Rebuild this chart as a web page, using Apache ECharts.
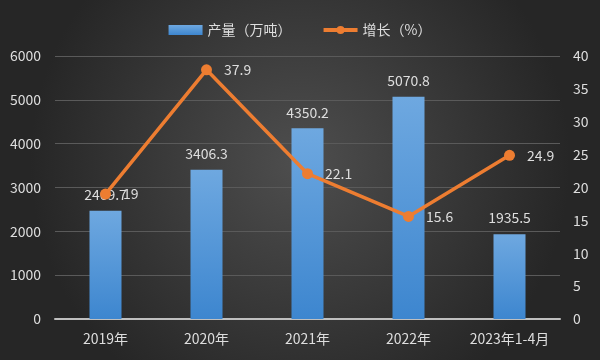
<!DOCTYPE html>
<html>
<head>
<meta charset="utf-8">
<script src="https://cdn.jsdelivr.net/npm/echarts@6/dist/echarts.min.js"></script>
<style>html,body{margin:0;padding:0;background:#333;}#c{width:600px;height:360px;}</style>
</head>
<body>
<div id="c"></div>
<script>
const categories = ['2019年', '2020年', '2021年', '2022年', '2023年1-4月'];
const output = [2469.7, 3406.3, 4350.2, 5070.8, 1935.5];
const growth = [19, 37.9, 22.1, 15.6, 24.9];
const leftTicks = { min: 0, max: 6000, interval: 1000 };
const rightTicks = { min: 0, max: 40, interval: 5 };

const txt = '#dedede';
const font = '"Noto Sans CJK SC", "Noto Sans", sans-serif';
const chart = echarts.init(document.getElementById('c'));
chart.setOption({
  animation: false,
  backgroundColor: {
    type: 'radial', x: 0.5, y: 0.45, r: 0.75,
    colorStops: [{ offset: 0, color: '#4e4e4e' }, { offset: 1, color: '#262626' }]
  },
  textStyle: { fontFamily: font },
  legend: {
    top: 18, left: 'center',
    itemWidth: 34, itemHeight: 10, itemGap: 30,
    textStyle: { color: txt, fontSize: 14, fontFamily: font },
    data: [
      { name: '产量（万吨）', icon: 'rect' },
      { name: '增长（%）', lineStyle: { width: 4 } }
    ]
  },
  grid: { left: 55, right: 40, top: 56, bottom: 41 },
  xAxis: {
    type: 'category', data: categories,
    axisLine: { lineStyle: { color: '#bfbfbf', width: 2 } },
    axisTick: { show: false },
    axisLabel: { color: txt, fontSize: 14, margin: 13, interval: 0, fontFamily: font }
  },
  yAxis: [
    {
      type: 'value', min: leftTicks.min, max: leftTicks.max, interval: leftTicks.interval,
      axisLine: { show: false }, axisTick: { show: false },
      axisLabel: { color: txt, fontSize: 14, margin: 14, fontFamily: font, formatter: v => String(v) },
      splitLine: { lineStyle: { color: '#5a5a5a', width: 1 } }
    },
    {
      type: 'value', min: rightTicks.min, max: rightTicks.max, interval: rightTicks.interval,
      axisLine: { show: false }, axisTick: { show: false },
      axisLabel: { color: txt, fontSize: 14, margin: 13, fontFamily: font, formatter: v => String(v) },
      splitLine: { show: false }
    }
  ],
  series: [
    {
      name: '产量（万吨）', type: 'bar', data: output, barWidth: 32,
      itemStyle: {
        color: {
          type: 'linear', x: 0, y: 0, x2: 0, y2: 1,
          colorStops: [{ offset: 0, color: '#6ea8e0' }, { offset: 1, color: '#3d86cf' }]
        }
      },
      label: { show: true, position: 'top', distance: 9, color: txt, fontSize: 14, fontFamily: font }
    },
    {
      name: '增长（%）', type: 'line', yAxisIndex: 1, data: growth,
      symbol: 'circle', symbolSize: 11,
      lineStyle: { color: '#ed7d31', width: 3.5 },
      itemStyle: { color: '#ed7d31' },
      label: { show: true, position: 'right', distance: 12, color: txt, fontSize: 14, fontFamily: font }
    }
  ]
});
</script>
</body>
</html>
